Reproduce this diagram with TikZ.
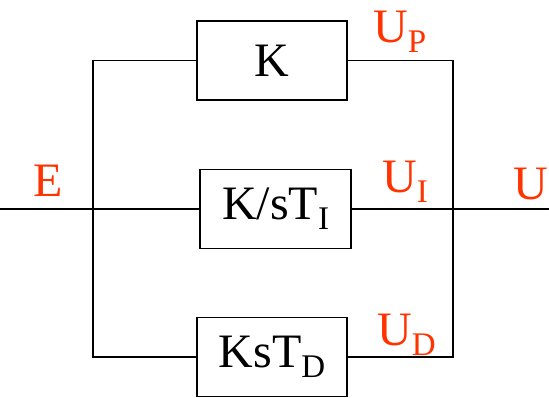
\documentclass[tikz,border=0pt]{standalone}
\usepackage{fontspec}
\setmainfont{Liberation Serif}
\definecolor{sigred}{HTML}{FF3300}
\newcommand{\bigtxt}{\fontsize{48}{50}\selectfont}
\newcommand{\sub}[1]{\lower10pt\hbox{\fontsize{33}{34}\selectfont #1}}
\tikzset{
  blockbox/.style={draw, line width=1.8pt, minimum width=150pt, minimum height=79pt, inner sep=0pt, font=\bigtxt},
  wire/.style={line width=1.8pt},
  siglabel/.style={text=sigred, anchor=base west, inner sep=0pt, font=\bigtxt}
}
\begin{document}
\begin{tikzpicture}[x=1pt, y=-1pt]
  \useasboundingbox (0,0) rectangle (549,398);
  % blocks
  \node[blockbox] (kp) at (272,60.5) {K};
  \node[blockbox, minimum width=151pt] (ki) at (275.5,209) {K/sT\sub{I}};
  \node[blockbox] (kd) at (272,357) {KsT\sub{D}};
  % branch points
  \coordinate (lt) at (93,60.5);
  \coordinate (lb) at (93,357);
  \coordinate (rt) at (453,60.5);
  \coordinate (rb) at (453,357);
  \coordinate (in) at (0,209);
  \coordinate (out) at (549,209);
  % wiring
  \draw[wire] (kp.west) -- (lt) -- (lb) -- (kd.west);
  \draw[wire] (kp.east) -- (rt) -- (rb) -- (kd.east);
  \draw[wire] (in) -- (ki.west);
  \draw[wire] (ki.east) -- (out);
  % signal labels
  \node[siglabel] (le) at (33,197) {E};
  \node[siglabel] (lp) at (373,43) {U\sub{P}};
  \node[siglabel] (li) at (382,193) {U\sub{I}};
  \node[siglabel] (lu) at (513,200) {U};
  \node[siglabel] (ld) at (377,345) {U\sub{D}};
\end{tikzpicture}
\end{document}
